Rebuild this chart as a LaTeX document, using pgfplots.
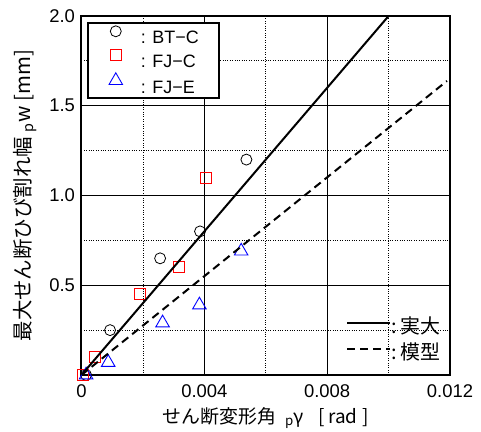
\documentclass[border=0pt]{standalone}
\usepackage{fontspec}
\setmainfont{Liberation Sans}
\newfontfamily\jp{Noto Sans CJK JP}
\usepackage{pgfplots}
\pgfplotsset{compat=1.18}
\begin{document}
\begin{tikzpicture}
\useasboundingbox (-81.5bp,-57bp) rectangle (399.5bp,375bp);
\pgfplotsset{common/.style={
  at={(0,0)}, anchor=south west,
  scale only axis, width=368.5bp, height=359bp,
  xmin=0, xmax=0.012, ymin=0, ymax=2}}
\begin{axis}[common,
  scaled x ticks=false,
  xtick={0,0.004,0.008,0.012}, xticklabels={0,0.004,0.008,0.012},
  ytick={0.5,1,1.5,2}, yticklabels={0.5,1.0,1.5,2.0},
  minor xtick={0.002,0.006,0.010}, minor ytick={0.25,0.75,1.25,1.75},
  grid=both,
  major grid style={black, line width=0.8bp},
  minor grid style={black, dotted, line width=0.8bp},
  major tick length=0pt, minor tick length=0pt,
  axis line style={line width=2bp},
  /pgf/number format/assume math mode=true,
  tick label style={font=\fontsize{18.5}{18.5}\selectfont},
  xticklabel style={yshift=-6bp},
  yticklabel style={xshift=-3bp},
  xlabel={\jp せん断変形角\hspace{9bp}\textsubscript{p}γ\hspace{15bp}[\hspace{3bp}rad\hspace{5bp}]},
  ylabel={\jp 最大せん断ひび割れ幅\hspace{5bp}\textsubscript{p}w\hspace{5bp}[mm]},
  xlabel style={font=\fontsize{19}{19}\selectfont, inner sep=0pt},
  ylabel style={font=\fontsize{20.5}{20.5}\selectfont, inner sep=0pt},
  xlabel style={at={(axis description cs:0.5,-0.1198)}, anchor=center},
  ylabel style={at={(axis description cs:-0.1533,0.5)}, anchor=center},
  legend cell align=left,
  legend style={at={(axis description cs:0.0149,0.9833)}, anchor=north west,
    draw=black, line width=1.6bp, fill=white,
    inner xsep=18bp, inner ysep=3bp,
    row sep=3.5bp,
    font=\fontsize{18}{18}\selectfont,
    nodes={inner ysep=0pt, inner xsep=2bp, text height=15bp, text depth=2bp}},
  legend image code/.code={%
    \path[draw=none, fill=none] (-10bp,0bp) rectangle (23bp,0bp);
    \draw[#1] plot[only marks] coordinates {(0bp,6bp)};},
]
\addplot[only marks, mark=o, mark size=5.5bp, black, line width=0.8bp]
  coordinates {(0.00015,0) (0.00093,0.25) (0.00256,0.65) (0.00386,0.80) (0.00537,1.20)};
\addlegendentry{: BT−C}
\addplot[only marks, mark=square, mark size=5.5bp, red, line width=1bp]
  coordinates {(0.00006,0) (0.00044,0.10) (0.0019,0.45) (0.00318,0.60) (0.00405,1.10)};
\addlegendentry{: FJ−C}
\addplot[only marks, mark=triangle, mark size=7.8bp, blue, line width=0.9bp]
  coordinates {(0.00015,0) (0.00087,0.07) (0.00264,0.29) (0.00384,0.39) (0.0052,0.69)};
\addlegendentry{: FJ−E}
\end{axis}
\begin{axis}[common, hide axis,
  legend cell align=left,
  legend style={at={(axis description cs:0.9756,0.0306)}, anchor=south east,
    draw=none, fill=none, inner sep=0pt, row sep=8bp,
    font=\fontsize{20}{20}\selectfont\jp,
    nodes={inner sep=0pt, text height=14bp, text depth=4bp}},
  legend image code/.code={%
    \draw[#1] (0bp,6bp) -- (43bp,6bp);},
]
\addplot[black, line width=2bp] coordinates {(0,0) (0.01,2.0)};
\addlegendentry{:\hspace{4bp}実大}
\addplot[black, line width=2bp, dash pattern=on 8bp off 5bp] coordinates {(0,0) (0.0119,1.638)};
\addlegendentry{:\hspace{4bp}模型}
\end{axis}
\end{tikzpicture}
\end{document}
